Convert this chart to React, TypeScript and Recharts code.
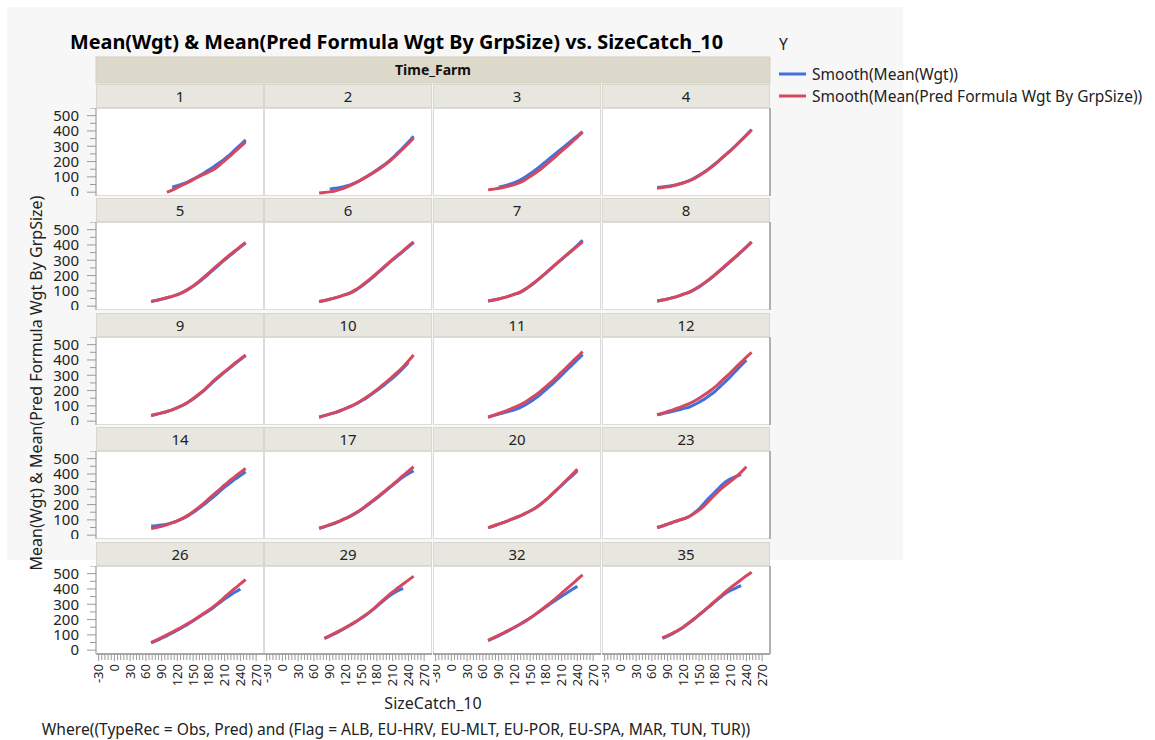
import React from 'react';
import { LineChart, Line, XAxis, YAxis } from 'recharts';

// SizeCatch_10 の値（全パネル共通）
const sizeCatch = [70, 80, 90, 100, 110, 120, 130, 140, 150, 160, 170, 180, 190, 200, 210, 220, 230, 240, 250];

// Time_Farm のパネル名
const timeFarm = ['1', '2', '3', '4', '5', '6', '7', '8', '9', '10', '11', '12', '14', '17', '20', '23', '26', '29', '32', '35'];

// Smooth(Mean(Wgt)) — 青
const meanWgt: (number | null)[][] = [
  [null, null, null, null, 33, 42, 54, 68, 85, 104, 124, 146, 168, 192, 218, 246, 278, 310, 342],
  [null, null, 20, 25, 31, 39, 49, 63, 81, 101, 122, 145, 169, 195, 224, 258, 292, 328, 366],
  [null, null, 32, 40, 50, 63, 78, 97, 120, 145, 172, 200, 228, 256, 284, 312, 340, 368, 396],
  [30, 34, 38, 44, 52, 62, 74, 90, 110, 132, 157, 184, 213, 243, 273, 305, 339, 373, 409],
  [30, 38, 46, 55, 64, 75, 90, 108, 130, 154, 182, 212, 242, 272, 302, 330, 358, 386, 412],
  [30, 37, 45, 54, 64, 75, 87, 105, 128, 154, 182, 212, 242, 272, 302, 330, 358, 388, 416],
  [34, 40, 47, 56, 66, 77, 89, 108, 132, 158, 186, 216, 246, 276, 306, 336, 366, 398, 431],
  [34, 40, 47, 56, 66, 78, 89, 106, 126, 150, 175, 203, 232, 262, 292, 322, 354, 386, 418],
  [37, 45, 54, 63, 74, 88, 103, 122, 144, 170, 198, 230, 262, 292, 320, 348, 376, 402, 428],
  [26, 36, 46, 56, 68, 82, 96, 112, 132, 152, 176, 200, 226, 254, 282, 312, 346, 384, null],
  [26, 36, 46, 54, 64, 74, 87, 104, 126, 150, 176, 206, 236, 268, 300, 334, 368, 401, 436],
  [42, 49, 57, 64, 72, 82, 91, 106, 124, 144, 168, 194, 226, 258, 292, 328, 364, 398, null],
  [60, 62, 66, 72, 82, 94, 108, 126, 148, 172, 198, 226, 254, 284, 314, 340, 366, 390, 414],
  [45, 55, 66, 78, 92, 108, 124, 144, 166, 190, 216, 242, 270, 298, 326, 354, 380, 402, 420],
  [49, 60, 72, 84, 97, 111, 125, 141, 158, 178, 202, 230, 262, 294, 326, 358, 388, 420, null],
  [50, 60, 72, 84, 96, 106, 120, 144, 172, 210, 248, 282, 316, 348, 368, 384, 396, null, null],
  [48, 62, 78, 94, 112, 130, 150, 170, 192, 214, 236, 258, 282, 308, 334, 358, 380, 399, null],
  [null, 77, 92, 108, 126, 145, 165, 186, 208, 232, 258, 286, 316, 344, 368, 388, 404, null, null],
  [62, 78, 94, 111, 129, 148, 168, 188, 210, 234, 258, 282, 306, 330, 352, 374, 396, 417, null],
  [null, 78, 92, 108, 128, 150, 175, 202, 230, 258, 287, 316, 344, 370, 390, 406, 421, null, null],
];

// Smooth(Mean(Pred Formula Wgt By GrpSize)) — 赤
const predWgt: (number | null)[][] = [
  [null, null, null, 0, 14, 30, 47, 63, 82, 100, 116, 132, 150, 176, 206, 236, 266, 297, 328],
  [-5, -2, 2, 8, 18, 30, 45, 62, 80, 100, 120, 142, 165, 190, 220, 252, 285, 318, 352],
  [15, 20, 25, 32, 40, 50, 62, 80, 102, 125, 150, 178, 208, 238, 268, 298, 328, 360, 391],
  [26, 30, 35, 42, 50, 60, 72, 88, 108, 130, 155, 182, 212, 242, 272, 305, 338, 372, 406],
  [30, 38, 46, 55, 64, 75, 90, 110, 132, 158, 188, 218, 248, 278, 308, 336, 362, 390, 416],
  [30, 37, 45, 54, 64, 76, 89, 108, 132, 158, 186, 216, 246, 276, 306, 334, 362, 392, 420],
  [34, 40, 47, 56, 66, 78, 90, 110, 134, 160, 188, 218, 248, 278, 308, 336, 364, 392, 420],
  [34, 40, 47, 56, 66, 78, 90, 108, 128, 152, 178, 206, 236, 266, 296, 326, 356, 388, 420],
  [37, 45, 54, 63, 74, 88, 104, 124, 148, 174, 202, 234, 266, 296, 324, 352, 380, 406, 432],
  [26, 36, 46, 56, 68, 82, 96, 114, 134, 156, 180, 206, 234, 262, 292, 322, 356, 393, 432],
  [26, 38, 50, 62, 76, 90, 105, 124, 146, 170, 196, 226, 256, 288, 320, 354, 388, 421, 454],
  [42, 52, 63, 74, 86, 100, 113, 130, 150, 172, 196, 222, 254, 286, 318, 352, 386, 418, 450],
  [43, 50, 58, 68, 80, 94, 110, 130, 154, 180, 208, 238, 268, 298, 328, 356, 384, 410, 436],
  [45, 56, 68, 80, 94, 110, 126, 146, 168, 194, 220, 246, 274, 302, 330, 360, 390, 418, 447],
  [49, 60, 72, 84, 97, 111, 125, 141, 158, 178, 202, 230, 262, 294, 328, 362, 396, 431, null],
  [50, 60, 72, 84, 96, 106, 120, 140, 164, 193, 228, 264, 298, 326, 352, 380, 412, 447, null],
  [50, 66, 83, 100, 118, 136, 155, 174, 194, 216, 240, 262, 288, 316, 346, 376, 405, 433, 461],
  [null, 77, 94, 111, 129, 147, 167, 187, 210, 234, 260, 290, 322, 352, 380, 406, 432, 458, 483],
  [64, 80, 97, 114, 132, 150, 168, 188, 210, 234, 260, 287, 314, 342, 372, 402, 432, 462, 492],
  [null, 80, 95, 112, 130, 152, 178, 204, 232, 260, 290, 320, 350, 380, 408, 434, 460, 486, 510],
];

// 目盛り
const xMajorTicks = [-30, 0, 30, 60, 90, 120, 150, 180, 210, 240, 270];
const xMinorStep = 6;
const yTicks = [0, 50, 100, 150, 200, 250, 300, 350, 400, 450, 500, 550];

const xTicks: number[] = [];
for (let v = -30; v <= 270; v += xMinorStep) xTicks.push(v);

const BLUE = '#4271de';
const RED = '#d5485d';
const FONT = '"Noto Sans", "Open Sans", sans-serif';

// レイアウト
const COL_X = [96, 264, 433, 602];
const PANEL_W = 168;
const ROW_TOP = [84, 198, 313, 427, 542];
const HEAD_H = 24;
const PLOT_H = 88;
const Y_AXIS_W = 56;
const X_AXIS_H = 40;

function XTick(props: any) {
  const { x, y, payload } = props;
  const v = payload.value;
  const major = xMajorTicks.includes(v);
  return (
    <g>
      <line x1={x} x2={x} y1={y} y2={y + (major ? 7 : 6)} stroke="#9a9a9a" />
      {major && (
        <text
          transform={`translate(${x},${y + 10}) rotate(-90)`}
          textAnchor="end"
          dy="0.35em"
          fontSize={13}
          fill="#222"
        >
          {v}
        </text>
      )}
    </g>
  );
}

function YTick(props: any) {
  const { x, y, payload } = props;
  const v = payload.value;
  const major = v % 100 === 0;
  return (
    <g>
      <line x1={x - (major ? 9 : 6)} x2={x} y1={y} y2={y} stroke="#9a9a9a" />
      {major && (
        <text x={x - 17} y={y} dy="0.35em" textAnchor="end" fontSize={15} fill="#222">
          {v}
        </text>
      )}
    </g>
  );
}

function Panel({ idx }: { idx: number }) {
  const r = Math.floor(idx / 4);
  const c = idx % 4;
  const showY = c === 0;
  const showX = r === 4;
  const data = sizeCatch.map((x, i) => ({ x, obs: meanWgt[idx][i], pred: predWgt[idx][i] }));
  const left = showY ? COL_X[c] - Y_AXIS_W : COL_X[c];
  const width = PANEL_W + (showY ? Y_AXIS_W : 0);
  const height = PLOT_H + (showX ? X_AXIS_H : 0);
  return (
    <div style={{ position: 'absolute', left, top: ROW_TOP[r] + HEAD_H, width, height }}>
      <LineChart width={width} height={height} data={data} margin={{ top: 0, right: 0, bottom: 0, left: 0 }} style={{ overflow: 'visible' }}>
        <XAxis
          type="number"
          dataKey="x"
          domain={[-35, 285]}
          ticks={xTicks}
          interval={0}
          hide={!showX}
          height={X_AXIS_H}
          tickSize={0}
          tickMargin={0}
          tickLine={false}
          tick={XTick}
          axisLine={{ stroke: '#a8a8a8', strokeWidth: 2 }}
        />
        <YAxis
          type="number"
          domain={[-25, 550]}
          ticks={yTicks}
          interval={0}
          hide={!showY}
          width={Y_AXIS_W}
          tickSize={0}
          tickMargin={0}
          tickLine={false}
          tick={YTick}
          axisLine={{ stroke: '#c4c4c4', strokeWidth: 2 }}
        />
        <Line type="monotone" dataKey="obs" stroke={BLUE} strokeWidth={3} dot={false} isAnimationActive={false} />
        <Line type="monotone" dataKey="pred" stroke={RED} strokeWidth={3} dot={false} isAnimationActive={false} />
      </LineChart>
    </div>
  );
}

export default function App() {
  return (
    <div style={{ position: 'absolute', left: 0, top: 0, width: 1155, height: 740, background: '#fff', fontFamily: FONT, overflow: 'hidden' }}>
      <svg width={1155} height={740} style={{ position: 'absolute', left: 0, top: 0 }}>
        <rect x={7} y={7} width={896} height={553} fill="#f7f7f7" />
        <text x={70} y={49} fontSize={19} fontWeight="bold" fill="#000" textLength={653} lengthAdjust="spacingAndGlyphs">
          Mean(Wgt) &amp; Mean(Pred Formula Wgt By GrpSize) vs. SizeCatch_10
        </text>

        {/* 凡例 */}
        <text x={779} y={50} fontSize={15.5} fill="#222">Y</text>
        <line x1={779} x2={806} y1={74} y2={74} stroke={BLUE} strokeWidth={3} />
        <text x={812} y={79.5} fontSize={15.5} fill="#222">Smooth(Mean(Wgt))</text>
        <line x1={779} x2={806} y1={96} y2={96} stroke={RED} strokeWidth={3} />
        <text x={812} y={101.5} fontSize={15.5} fill="#222">Smooth(Mean(Pred Formula Wgt By GrpSize))</text>

        {/* Time_Farm 見出し */}
        <rect x={96} y={57} width={674} height={26} fill="#dcd9ca" stroke="#d3d0c2" />
        <text x={433} y={75} textAnchor="middle" fontSize={14} fontWeight="bold" fill="#111">Time_Farm</text>

        {timeFarm.map((name, idx) => {
          const r = Math.floor(idx / 4);
          const c = idx % 4;
          const top = ROW_TOP[r];
          return (
            <g key={name}>
              <rect x={COL_X[c] + 0.5} y={top + 0.5} width={PANEL_W - 1} height={HEAD_H - 1} fill="#e8e7df" stroke="#d9d7cd" />
              <text x={COL_X[c] + PANEL_W / 2} y={top + 18} textAnchor="middle" fontSize={15} fill="#222">{name}</text>
              <rect x={COL_X[c] + 0.5} y={top + HEAD_H + 0.5} width={PANEL_W - 1} height={PLOT_H - 1} fill="#fff" stroke="#dcdcdc" />
              {c === 3 && (
                <line x1={COL_X[c] + PANEL_W} x2={COL_X[c] + PANEL_W} y1={top + HEAD_H} y2={top + HEAD_H + PLOT_H} stroke="#b0b0b0" strokeWidth={2} />
              )}
            </g>
          );
        })}

        <text transform="translate(36,383) rotate(-90)" textAnchor="middle" dy="0.35em" fontSize={16} fill="#222">
          Mean(Wgt) &amp; Mean(Pred Formula Wgt By GrpSize)
        </text>
        <text x={433} y={709} textAnchor="middle" fontSize={16} fill="#222">SizeCatch_10</text>
        <text x={396} y={735} textAnchor="middle" fontSize={15.6} fill="#222">
          Where((TypeRec = Obs, Pred) and (Flag = ALB, EU-HRV, EU-MLT, EU-POR, EU-SPA, MAR, TUN, TUR))
        </text>
      </svg>
      {timeFarm.map((name, idx) => (
        <Panel key={name} idx={idx} />
      ))}
    </div>
  );
}
